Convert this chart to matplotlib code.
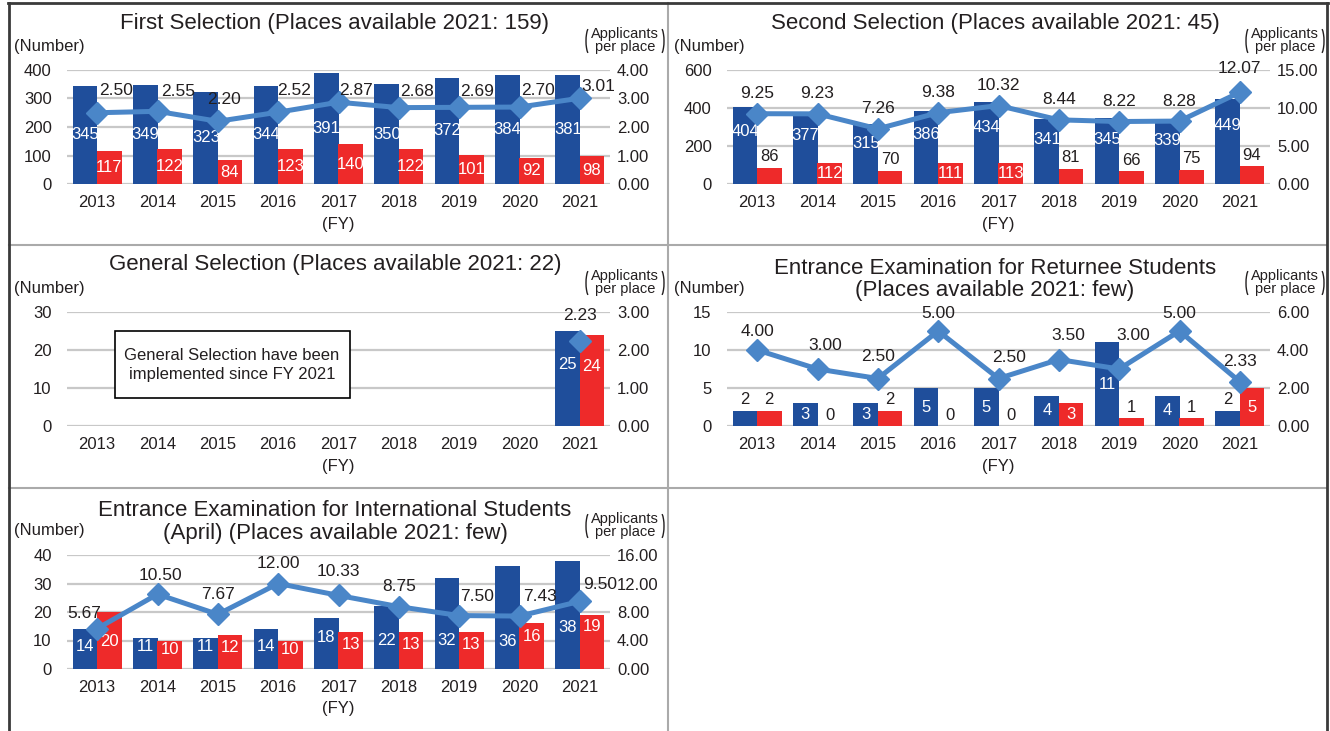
import numpy as np
import matplotlib
matplotlib.use("Agg")
import matplotlib.pyplot as plt
from matplotlib.lines import Line2D
from matplotlib.patches import Rectangle, Arc
from matplotlib.transforms import IdentityTransform

# data
years = ["2013", "2014", "2015", "2016", "2017", "2018", "2019", "2020", "2021"]

first_applicants = [345, 349, 323, 344, 391, 350, 372, 384, 381]
first_passed = [117, 122, 84, 123, 140, 122, 101, 92, 98]
first_ratio = [2.50, 2.55, 2.20, 2.52, 2.87, 2.68, 2.69, 2.70, 3.01]

second_applicants = [404, 377, 315, 386, 434, 341, 345, 339, 449]
second_passed = [86, 112, 70, 111, 113, 81, 66, 75, 94]
second_ratio = [9.25, 9.23, 7.26, 9.38, 10.32, 8.44, 8.22, 8.28, 12.07]

nan = np.nan
general_applicants = [nan, nan, nan, nan, nan, nan, nan, nan, 25]
general_passed = [nan, nan, nan, nan, nan, nan, nan, nan, 24]
general_ratio = [nan, nan, nan, nan, nan, nan, nan, nan, 2.23]

returnee_applicants = [2, 3, 3, 5, 5, 4, 11, 4, 2]
returnee_passed = [2, 0, 2, 0, 0, 3, 1, 1, 5]
returnee_ratio = [4.00, 3.00, 2.50, 5.00, 2.50, 3.50, 3.00, 5.00, 2.33]

intl_applicants = [14, 11, 11, 14, 18, 22, 32, 36, 38]
intl_passed = [20, 10, 12, 10, 13, 13, 13, 16, 19]
intl_ratio = [5.67, 10.50, 7.67, 12.00, 10.33, 8.75, 7.50, 7.43, 9.50]

# label placement (layout only)
first_offsets = [(19, 22), (21, 20), (6, 22), (16, 22), (18, 12), (18, 16), (18, 16), (18, 17), (18, 12)]
second_offsets = [(0, 20)] * 8 + [(0, 24)]
general_offsets = [(0, 26)] * 9
returnee_offsets = [(0, 18), (8, 24), (0, 22), (0, 18), (11, 21), (9, 24), (14, 33), (0, 18), (0, 20)]
intl_offsets = [(-13, 15), (3, 19), (0, 20), (0, 20), (0, 24), (0, 20), (18, 19), (21, 20), (20, 17)]
intl_blue_label_y = [7.8, 7.8, 7.8, 7.8, 11, 9.9, 9.9, 9.6, 14.5]
intl_red_label_y = [9.6, 6.7, 7.4, 6.7, 8.5, 8.5, 8.5, 11.3, 14.9]

BLUE = "#1f4e9b"
RED = "#ee2a2a"
LINE = "#4a86c8"
TXT = "#231f20"
GRID = "#c8c8c8"
W, H = 1330, 731

plt.rcParams['font.family'] = ['Liberation Sans', 'DejaVu Sans']

fig = plt.figure(figsize=(W / 100, H / 100), dpi=100)


def fx(px):
    return px / W


def fy(py):
    return 1 - py / H


def panel(ox, oy, title, blue, red, ratio, ymax, ystep, rmax, rstep, offsets, blue_pos, red_pos):
    ax = fig.add_axes([fx(ox + 59), fy(oy + 67 + 114), 543 / W, 114 / H])
    x = np.arange(len(years))
    ax.bar(x - 0.2, blue, width=0.41, color=BLUE, zorder=2)
    ax.bar(x + 0.2, red, width=0.41, color=RED, zorder=2)
    ax.set_xlim(-0.5, 8.5)
    ax.set_ylim(0, ymax)
    ax.set_yticks(np.arange(0, ymax + 1, ystep))
    ax.set_xticks(x)
    ax.set_xticklabels(years)
    ax.grid(axis='y', color=GRID, lw=1.6)
    ax.set_axisbelow(True)
    for s in ax.spines.values():
        s.set_visible(False)
    ax.tick_params(axis='x', length=0, labelsize=12, colors=TXT, pad=8)
    ax.tick_params(axis='y', length=0, labelsize=12, colors=TXT, pad=11)

    # bar labels
    for vals, pos, dx in [(blue, blue_pos, -0.2), (red, red_pos, 0.2)]:
        for i, v in enumerate(vals):
            if np.isnan(v):
                continue
            if v < 0.17 * ymax:
                ax.annotate(str(int(v)), (i + dx, v), xytext=(0, 11), textcoords='offset pixels',
                            ha='center', va='center', fontsize=12, color=TXT)
            else:
                yl = pos[i] if isinstance(pos, list) else v * pos
                ax.text(i + dx, yl, str(int(v)), ha='center', va='center', fontsize=12,
                        color='white', zorder=3)

    ax2 = ax.twinx()
    ax2.set_ylim(0, rmax)
    ax2.set_yticks(np.arange(0, rmax + 0.01, rstep))
    ax2.set_yticklabels(["%.2f" % t for t in np.arange(0, rmax + 0.01, rstep)])
    for s in ax2.spines.values():
        s.set_visible(False)
    ax2.tick_params(axis='y', length=0, labelsize=12, colors=TXT, pad=5)
    ax2.plot(x, ratio, color=LINE, lw=3.6, marker='D', ms=11, zorder=3)
    for i, v in enumerate(ratio):
        if np.isnan(v):
            continue
        ax2.annotate("%.2f" % v, (i, v), xytext=offsets[i], textcoords='offset pixels',
                     ha='center', va='center', fontsize=12.5, color=TXT)

    # panel texts
    lines = title.split("\n")
    if len(lines) == 1:
        fig.text(fx(ox + 327), fy(oy + 20), lines[0], ha='center', va='center', fontsize=16, color=TXT)
    else:
        fig.text(fx(ox + 327), fy(oy + 23), lines[0], ha='center', va='center', fontsize=16, color=TXT)
        fig.text(fx(ox + 327), fy(oy + 45), lines[1], ha='center', va='center', fontsize=16, color=TXT)
    fig.text(fx(ox + 6), fy(oy + 43), "(Number)", ha='left', va='center', fontsize=12, color=TXT)
    fig.text(fx(ox + 617), fy(oy + 31), "Applicants", ha='center', va='center', fontsize=10.5, color=TXT)
    fig.text(fx(ox + 617), fy(oy + 44), "per place", ha='center', va='center', fontsize=10.5, color=TXT)
    # thin tall brackets round the right-axis caption
    for cx, t1, t2 in [(ox + 582, 100, 260), (ox + 652, -80, 80)]:
        fig.add_artist(Arc((cx, H - (oy + 38)), 8, 28, theta1=t1, theta2=t2,
                           transform=IdentityTransform(), color=TXT, lw=1.0))
    fig.text(fx(ox + 330), fy(oy + 221), "(FY)", ha='center', va='center', fontsize=12, color=TXT)
    return ax


panel(8, 3, "First Selection (Places available 2021: 159)",
      first_applicants, first_passed, first_ratio, 400, 100, 4, 1, first_offsets, 0.5, 0.5)
panel(668, 3, "Second Selection (Places available 2021: 45)",
      second_applicants, second_passed, second_ratio, 600, 200, 15, 5, second_offsets, 0.68, 0.5)
panel(8, 245, "General Selection (Places available 2021: 22)",
      general_applicants, general_passed, general_ratio, 30, 10, 3, 1, general_offsets, 0.65, 0.65)
panel(668, 245, "Entrance Examination for Returnee Students\n(Places available 2021: few)",
      returnee_applicants, returnee_passed, returnee_ratio, 15, 5, 6, 2, returnee_offsets, 0.5, 0.5)
panel(8, 488, "Entrance Examination for International Students\n(April) (Places available 2021: few)",
      intl_applicants, intl_passed, intl_ratio, 40, 10, 16, 4, intl_offsets, intl_blue_label_y, intl_red_label_y)

# note box in the General Selection panel
fig.add_artist(Rectangle((fx(8 + 107), fy(245 + 153)), 235 / W, 67 / H, transform=fig.transFigure,
                         facecolor='white', edgecolor='black', lw=1.2, zorder=5))
fig.text(fx(8 + 224), fy(245 + 120), "General Selection have been\nimplemented since FY 2021",
         ha='center', va='center', fontsize=12, color=TXT, linespacing=1.4, zorder=6)

# panel borders
DARK = "#3a3a3a"
LIGHT = "#aaaaaa"
fig.add_artist(Line2D([fx(668), fx(668)], [fy(3), fy(731)], color=LIGHT, lw=1.5))
fig.add_artist(Line2D([fx(9), fx(1327)], [fy(245), fy(245)], color=LIGHT, lw=1.5))
fig.add_artist(Line2D([fx(9), fx(1327)], [fy(488), fy(488)], color=LIGHT, lw=1.5))
fig.add_artist(Line2D([fx(8), fx(1328)], [fy(3), fy(3)], color=DARK, lw=2))
fig.add_artist(Line2D([fx(9), fx(9)], [fy(3), fy(731)], color=DARK, lw=2))
fig.add_artist(Line2D([fx(1327), fx(1327)], [fy(3), fy(731)], color=DARK, lw=2))

fig.savefig("out.png", dpi=100)
